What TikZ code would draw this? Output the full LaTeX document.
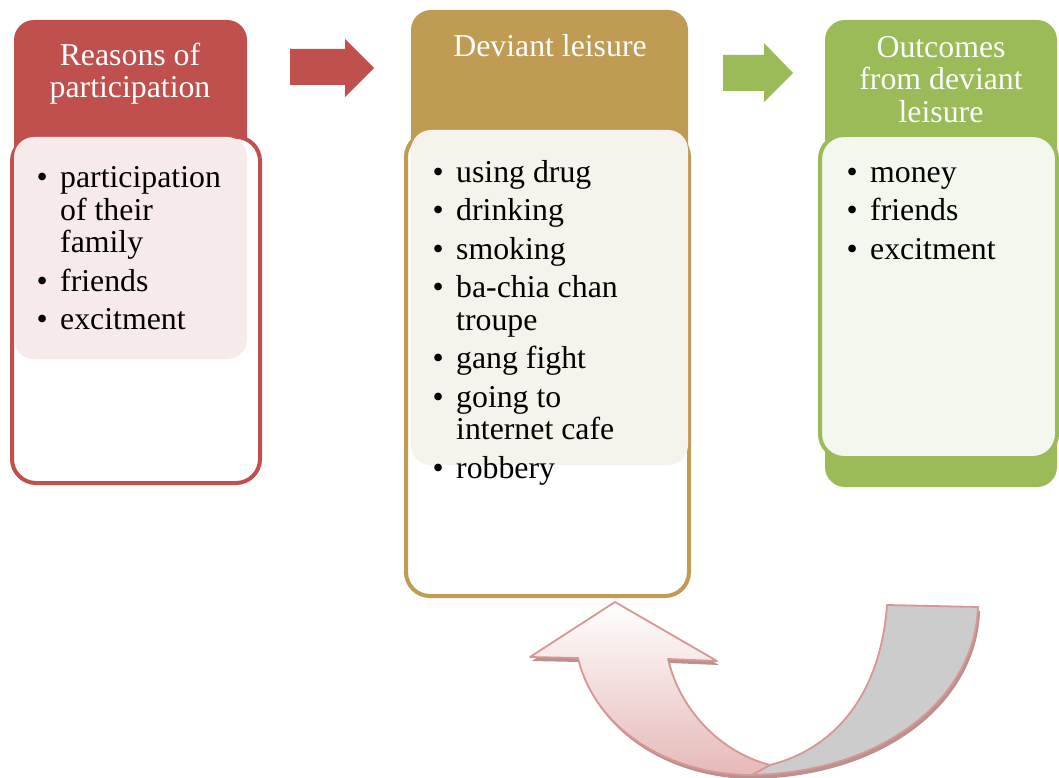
\documentclass[tikz,border=0pt]{standalone}
\usepackage{fontspec}
\setmainfont{Liberation Serif}
\definecolor{cred}{HTML}{C0504D}
\definecolor{ctan}{RGB}{191,155,83}
\definecolor{cgreen}{HTML}{9BBB59}
\definecolor{fred}{RGB}{247,234,234}
\definecolor{ftan}{RGB}{246,242,236}
\definecolor{fgreen}{RGB}{244,247,238}
\definecolor{aline}{HTML}{D99694}
\definecolor{apink}{HTML}{E6B9B8}
\definecolor{agray}{HTML}{CCCCCC}
\definecolor{ashadow}{RGB}{185,145,145}
\newcommand\bul{\llap{\textbullet\hspace{12.5pt}}}
\begin{document}
\begin{tikzpicture}[x=1pt,y=-1pt,
  hdr/.style={rounded corners=20pt},
  outbox/.style={rounded corners=24pt, line width=4pt, fill=white},
  inbox/.style={rounded corners=20pt},
  hdrtext/.style={anchor=north, align=center, inner sep=0pt, text=white,
    font=\fontsize{31.8}{32.5}\selectfont},
  listtext/.style={anchor=north west, align=left, inner sep=0pt, text=black,
    font=\fontsize{31.8}{32.5}\selectfont}]
\useasboundingbox (0,0) rectangle (1059,778);
\fill[white] (0,0) rectangle (1059,778);

% ---------- left column ----------
\fill[cred, hdr] (14,20) rectangle (247,300);
\draw[outbox, draw=cred] (12,137) rectangle (260,483);
\fill[fred, inbox] (14,137) rectangle (247,359);
\node[hdrtext] (h1) at (130,42.3) {\strut Reasons of\\participation};
\node[listtext] (l1) at (60,165) {\strut\bul participation\\of their\\family\\[6pt]\bul friends\\[6pt]\bul excitment};

% ---------- middle column ----------
\fill[ctan, hdr] (411,10) rectangle (688,300);
\draw[outbox, draw=ctan] (406,133) rectangle (689,596);
\fill[ftan, inbox] (411,130) rectangle (688,465);
\node[hdrtext] (h2) at (550,33.3) {\strut Deviant leisure};
\node[listtext] (l2) at (456,159.5) {\strut\bul using drug\\[6pt]\bul drinking\\[6pt]\bul smoking\\[6pt]\bul ba-chia chan\\troupe\\[6pt]\bul gang fight\\[6pt]\bul going to\\internet cafe\\[6pt]\bul robbery};

% ---------- right column ----------
\fill[cgreen, hdr] (825,20) rectangle (1057,487);
\draw[outbox, draw=cgreen, fill=fgreen] (820,135) rectangle (1057,458);
\node[hdrtext] (h3) at (941,34.3) {\strut Outcomes\\from deviant\\leisure};
\node[listtext] (l3) at (870,159.5) {\strut\bul money\\[6pt]\bul friends\\[6pt]\bul excitment};

% ---------- block arrows ----------
\fill[cred] (290,49) -- (345,49) -- (345,39) -- (374,68) -- (345,97) -- (345,85) -- (290,85) -- cycle;
\fill[cgreen] (723,55) -- (764,55) -- (764,43) -- (793,73) -- (764,102) -- (764,91) -- (723,91) -- cycle;

% ---------- U-turn arrow ----------
\begin{scope}[shift={(2,4)}]
\fill[ashadow] (745,775) .. controls (880,775) and (975,700) .. (978,607)
  -- (887,605) .. controls (880,700) and (830,750) .. (770,765) -- cycle;
\fill[ashadow] (615,602) -- (717,661) -- (668,659)
  .. controls (680,710) and (720,752) .. (770,765) -- (752,775)
  .. controls (670,775) and (595,730) .. (578,658) -- (530,657) -- cycle;
\end{scope}
\draw[fill=agray, draw=aline, line width=1.8pt, line join=round]
  (745,775) .. controls (880,775) and (975,700) .. (978,607)
  -- (887,605) .. controls (880,700) and (830,750) .. (770,765) -- cycle;
\path[top color=white, bottom color=apink, draw=aline, line width=1.8pt, line join=round]
  (615,602) -- (717,661) -- (668,659)
  .. controls (680,710) and (720,752) .. (770,765) -- (752,775)
  .. controls (670,775) and (595,730) .. (578,658) -- (530,657) -- cycle;
\end{tikzpicture}
\end{document}
